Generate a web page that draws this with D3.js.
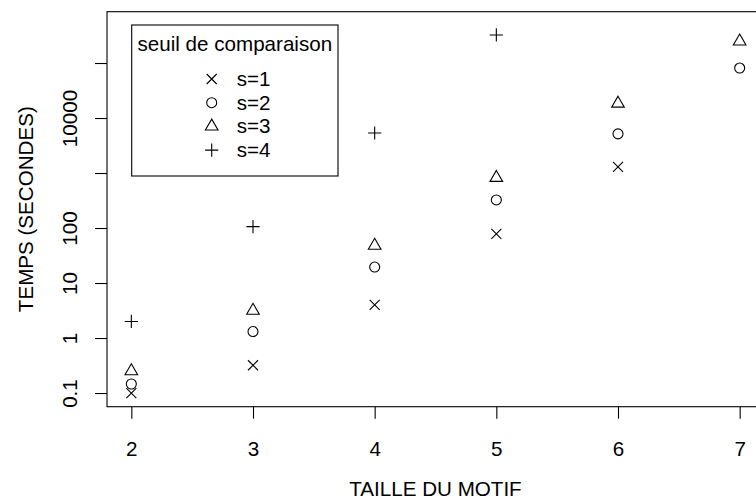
<!DOCTYPE html>
<html>
<head>
<meta charset="utf-8">
<script src="https://cdn.jsdelivr.net/npm/d3@7/dist/d3.min.js"></script>
<style>
  html, body { margin: 0; padding: 0; background: #fff; }
  svg { display: block; }
  text { font-family: "Liberation Sans", Arial, Helvetica, sans-serif; fill: #000; }
</style>
</head>
<body>
<svg id="chart" width="756" height="501"></svg>
<script>
// ---- data ----
const sizes = [2, 3, 4, 5, 6, 7];
const seriesNames = ["s=1", "s=2", "s=3", "s=4"];
const seriesShapes = ["cross", "circle", "triangle", "plus"];
const s1 = [0.1, 0.32, 4.0, 78, 1290, null];
const s2 = [0.146, 1.31, 19.5, 324, 5150, 81000];
const s3 = [0.25, 3.15, 48, 820, 18400, 248000];
const s4 = [2.0, 106, 5340, 324000, null, null];
const seriesValues = [s1, s2, s3, s4];
const xTickValues = [2, 3, 4, 5, 6, 7];
const yTickValues = [0.1, 1, 10, 100, 1000, 10000, 100000];
const yTickLabels = ["0.1", "1", "10", "100", "", "10000", ""];
const xTitle = "TAILLE DU MOTIF";
const yTitle = "TEMPS (SECONDES)";
const legendTitle = "seuil de comparaison";

// ---- layout ----
const W = 756, H = 501;
const plot = { left: 107, right: 764, top: 11.7, bottom: 406.7 };
const fontSize = 20.6;
const tickLen = 12;

const svg = d3.select("#chart");

const x = d3.scaleLinear().domain([1.8, 7.2]).range([plot.left, plot.right]);
const y = d3.scaleLog().domain([0.0564, 857000]).range([plot.bottom, plot.top]);

// plot box
svg.append("rect")
  .attr("x", plot.left).attr("y", plot.top)
  .attr("width", plot.right - plot.left).attr("height", plot.bottom - plot.top)
  .attr("fill", "none").attr("stroke", "#000").attr("stroke-width", 1.1);

// x axis
const xAxis = d3.axisBottom(x).tickValues(xTickValues).tickFormat(d3.format("d"))
  .tickSize(tickLen).tickPadding(0);
const gx = svg.append("g").attr("transform", `translate(0,${plot.bottom})`).call(xAxis);
gx.select(".domain").remove();
gx.selectAll(".tick line").attr("stroke", "#000").attr("stroke-width", 1.1);
gx.selectAll(".tick text")
  .attr("font-size", fontSize)
  .attr("font-family", "Liberation Sans, Arial, sans-serif")
  .attr("fill", "#000")
  .attr("dy", null)
  .attr("y", 456 - plot.bottom);

// y axis
const yAxis = d3.axisLeft(y).tickValues(yTickValues)
  .tickFormat((d, i) => yTickLabels[i]).tickSize(tickLen).tickPadding(0);
const gy = svg.append("g").attr("transform", `translate(${plot.left},0)`).call(yAxis);
gy.select(".domain").remove();
gy.selectAll(".tick line").attr("stroke", "#000").attr("stroke-width", 1.1);
gy.selectAll(".tick text")
  .attr("font-size", fontSize)
  .attr("font-family", "Liberation Sans, Arial, sans-serif")
  .attr("fill", "#000")
  .attr("x", null).attr("dy", null)
  .attr("text-anchor", "middle")
  .attr("transform", `translate(${77 - plot.left},0) rotate(-90)`);

// axis titles
svg.append("text")
  .attr("x", (plot.left + plot.right) / 2).attr("y", 496)
  .attr("text-anchor", "middle").attr("font-size", fontSize)
  .text(xTitle);
svg.append("text")
  .attr("transform", `translate(33,${(plot.top + plot.bottom) / 2}) rotate(-90)`)
  .attr("text-anchor", "middle").attr("font-size", fontSize)
  .text(yTitle);

// symbols (R pch geometry)
function drawSymbol(g, shape, cx, cy) {
  const st = { stroke: "#000", "stroke-width": 1.1, fill: "none" };
  let el;
  if (shape === "circle") {
    el = g.append("circle").attr("cx", cx).attr("cy", cy).attr("r", 5);
  } else if (shape === "cross") {
    const h = 5;
    el = g.append("path").attr("d",
      `M${cx - h},${cy - h}L${cx + h},${cy + h}M${cx - h},${cy + h}L${cx + h},${cy - h}`);
  } else if (shape === "plus") {
    const h = 6.6;
    el = g.append("path").attr("d",
      `M${cx - h},${cy}L${cx + h},${cy}M${cx},${cy - h}L${cx},${cy + h}`);
  } else if (shape === "triangle") {
    const r = 7.3, yc = r / 2, xc = r * Math.sqrt(3) / 2;
    el = g.append("path").attr("d",
      `M${cx},${cy - r}L${cx + xc},${cy + yc}L${cx - xc},${cy + yc}Z`);
  }
  Object.entries(st).forEach(([k, v]) => el.attr(k, v));
}

const gPts = svg.append("g");
seriesValues.forEach((vals, si) => {
  vals.forEach((v, i) => {
    if (v == null) return;
    drawSymbol(gPts, seriesShapes[si], x(sizes[i]), y(v));
  });
});

// legend
const leg = { left: 131.7, top: 25, right: 338, bottom: 176 };
svg.append("rect")
  .attr("x", leg.left).attr("y", leg.top)
  .attr("width", leg.right - leg.left).attr("height", leg.bottom - leg.top)
  .attr("fill", "#fff").attr("stroke", "#000").attr("stroke-width", 1.1);
svg.append("text")
  .attr("x", (leg.left + leg.right) / 2).attr("y", 51)
  .attr("text-anchor", "middle").attr("font-size", fontSize)
  .text(legendTitle);
const gLeg = svg.append("g");
seriesNames.forEach((name, i) => {
  const cy = 79 + i * 23.7;
  drawSymbol(gLeg, seriesShapes[i], 211.7, cy);
  gLeg.append("text")
    .attr("x", 236.7).attr("y", cy + 7)
    .attr("font-size", fontSize)
    .text(name);
});
</script>
</body>
</html>
